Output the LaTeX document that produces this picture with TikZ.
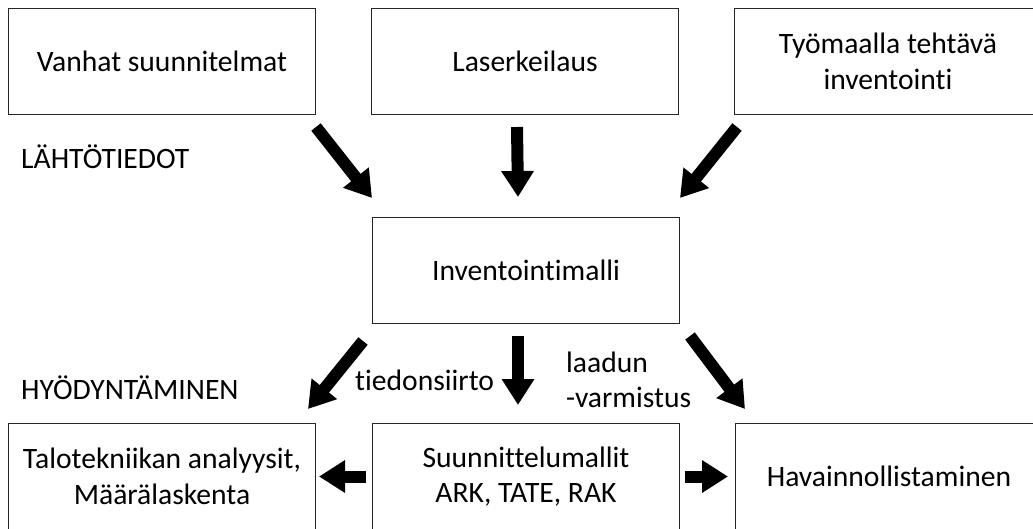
\documentclass[tikz,border=0pt]{standalone}
\usepackage{fontspec}
\setmainfont{Carlito}[Ligatures=NoCommon]
\usetikzlibrary{arrows.meta}
\begin{document}
\begin{tikzpicture}[x=1pt, y=-1pt,
    every node/.style={font=\fontsize{29.6}{35.5}\selectfont},
    box/.style={draw=black!85, line width=1pt, minimum width=307pt, minimum height=106pt, align=center, anchor=north west},
    bigarrow/.style={line width=12pt, -{Triangle[width=31pt, length=26pt]}}]
    \useasboundingbox (0,0) rectangle (1033,528);
    \node[box] (vanhat) at (8,8) {Vanhat suunnitelmat};
    \node[box] (laser) at (371,8) {Laserkeilaus};
    \node[box] (tyomaa) at (734,8) {Työmaalla tehtävä\\inventointi};
    \node[box] (inv) at (372,217) {Inventointimalli};
    \node[box] (talo) at (8,423) {Talotekniikan analyysit,\\Määrälaskenta};
    \node[box] (suun) at (372,423) {Suunnittelumallit\\ARK, TATE, RAK};
    \node[box] (hav) at (735,423) {Havainnollistaminen};
    \node[anchor=west, inner sep=0pt] (lahto) at (21,157) {LÄHTÖTIEDOT};
    \node[anchor=west, inner sep=0pt] (hyod) at (21,388) {HYÖDYNTÄMINEN};
    \draw[bigarrow] ([shift={(0,12)}]vanhat.south east) -- ([shift={(0,-19)}]inv.north west);
    \draw[bigarrow] ([shift={(-8,12)}]laser.south) -- ([shift={(-8,-20)}]inv.north);
    \draw[bigarrow] ([shift={(3,12)}]tyomaa.south west) -- ([shift={(0,-19)}]inv.north east);
    \draw[bigarrow] ([shift={(-9,17)}]inv.south west) -- ([shift={(-8,-14)}]talo.north east);
    \node[anchor=west, inner sep=0pt] (tieto) at (355,380) {tiedonsiirto};
    \draw[bigarrow] ([shift={(-8,12)}]inv.south) -- ([shift={(-8,-18)}]suun.north);
    \draw[bigarrow] ([shift={(10,12)}]inv.south east) -- ([shift={(10,-14)}]hav.north west);
    \node[anchor=west, align=left, inner sep=0pt] (laatu) at (566,380) {laadun\\-varmistus};
    \draw[bigarrow] ([shift={(-6,0)}]suun.west) -- ([shift={(3,0)}]talo.east);
    \draw[bigarrow] ([shift={(5,0)}]suun.east) -- ([shift={(-7,0)}]hav.west);
\end{tikzpicture}
\end{document}
